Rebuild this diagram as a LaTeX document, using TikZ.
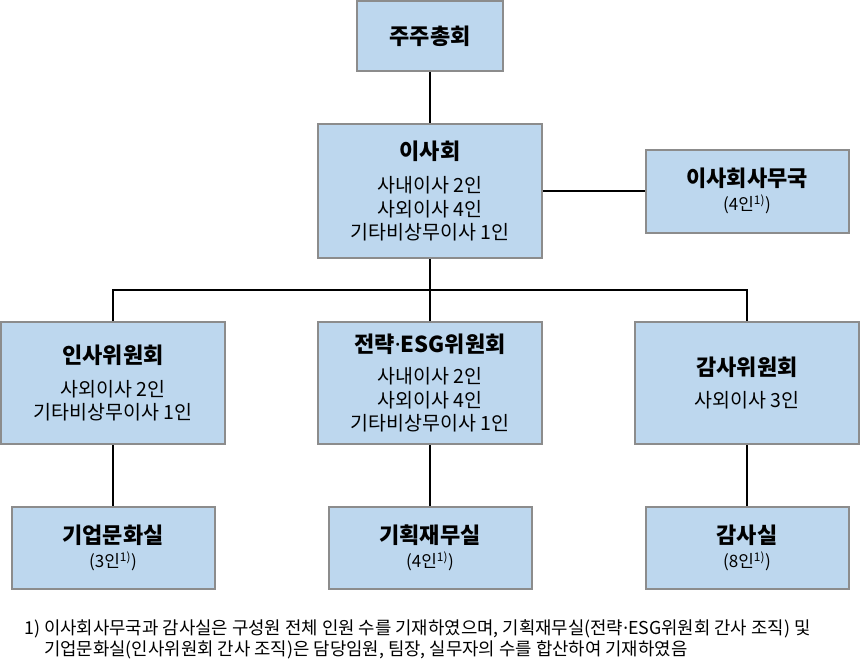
\documentclass[tikz,border=0pt]{standalone}
\usepackage{fontspec}
\setmainfont{Noto Sans CJK KR}
\newfontfamily\latinfont{Noto Sans}
\usepackage{tikz}
\usetikzlibrary{positioning}
\definecolor{boxfill}{HTML}{BDD7EE}
\definecolor{boxline}{HTML}{8C8C8C}
\newcommand{\unitname}[1]{{\fontsize{22}{26}\selectfont\bfseries #1}}
\newcommand{\headcount}[1]{{\fontsize{17}{21}\selectfont #1}}

\begin{document}
\begin{tikzpicture}[x=1pt, y=-1pt,
    unit/.style={draw=boxline, fill=boxfill, line width=2pt, align=center, inner sep=0pt,
        font=\fontsize{19.5}{23.5}\selectfont},
    bigunit/.style={unit, minimum width=224pt, minimum height=122pt},
    smallunit/.style={unit, minimum width=203pt, minimum height=82pt},
    link/.style={black, line width=1.5pt},
    note/.style={anchor=base west, inner sep=0pt, font=\fontsize{17.8}{21}\selectfont}]
    \useasboundingbox (0,0) rectangle (860,669); % page
    \node[unit, minimum width=146pt, minimum height=70pt] (gm) at (430,36) {\unitname{주주총회}}; % top
    \node[bigunit, minimum height=134pt] (board) at (430,191) {\unitname{이사회} \\[10pt] 사내이사 2인 \\ 사외이사 4인 \\ 기타비상무이사 1인};
    \node[smallunit, minimum height=83pt] (secr) at (747,191) {\unitname{이사회사무국} \\[0pt] \headcount{(4인\textsuperscript{1)})}};
    \coordinate (bus) at (430,290);
    \node[bigunit] (hr) at (113,383) {\unitname{인사위원회} \\[9pt] 사외이사 2인 \\ 기타비상무이사 1인};
    \node[bigunit] (esg) at (430,383) {\unitname{전략{\latinfont·}ESG위원회} \\[8pt] 사내이사 2인 \\ 사외이사 4인 \\ 기타비상무이사 1인};
    \node[bigunit] (audit) at (747,383) {\unitname{감사위원회} \\[9pt] 사외이사 3인};
    \node[smallunit] (culture) at (113,548) {\unitname{기업문화실} \\[0pt] \headcount{(3인\textsuperscript{1)})}};
    \node[smallunit] (plan) at (430,548) {\unitname{기획재무실} \\[0pt] \headcount{(4인\textsuperscript{1)})}};
    \node[smallunit] (auditoff) at (747,548) {\unitname{감사실} \\[0pt] \headcount{(8인\textsuperscript{1)})}};
    \draw[link] (gm) -- (board);
    \draw[link] (board) -- (secr);
    \draw[link] (board) -- (esg);
    \draw[link] (hr.north) |- (bus) -| (audit.north); % committees
    \draw[link] (hr) -- (culture);
    \draw[link] (esg) -- (plan);
    \draw[link] (audit) -- (auditoff);
    \node[note] (note1) at (24,634) {1) 이사회사무국과 감사실은 구성원 전체 인원 수를 기재하였으며, 기획재무실(전략{\latinfont·}ESG위원회 간사 조직) 및};
    \node[note] (note2) at (24,655) {\phantom{1) }기업문화실(인사위원회 간사 조직)은 담당임원, 팀장, 실무자의 수를 합산하여 기재하였음};
\end{tikzpicture}
\end{document}
